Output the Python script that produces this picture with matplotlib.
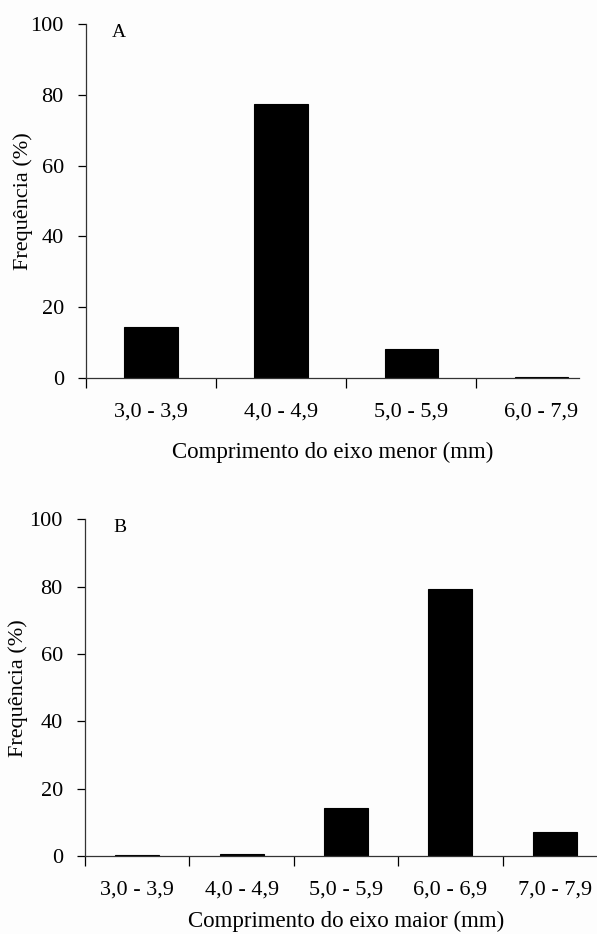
import matplotlib

matplotlib.use("Agg")
import matplotlib.pyplot as plt
import numpy as np

plt.rcParams["font.family"] = ["Liberation Serif", "DejaVu Serif"]

labels_menor = ["3,0 - 3,9", "4,0 - 4,9", "5,0 - 5,9", "6,0 - 7,9"]
freq_menor = [14.5, 77.5, 8.1, 0.3]

labels_maior = ["3,0 - 3,9", "4,0 - 4,9", "5,0 - 5,9", "6,0 - 6,9", "7,0 - 7,9"]
freq_maior = [0.2, 0.5, 14.2, 79.2, 7.0]

fs = 16


def panel(axis, labels, values, letter, xlabel, xright, width, xpad):
    x = np.arange(len(labels))
    axis.bar(x, values, width=width, color="black", edgecolor="black", linewidth=0.8)
    axis.set_xlim(-0.5, xright)
    axis.set_ylim(0, 100)
    axis.set_yticks([0, 20, 40, 60, 80, 100])
    axis.set_xticks(x, labels=labels)
    axis.set_xticks(np.arange(len(labels)) - 0.5, minor=True)
    axis.tick_params(axis="x", which="major", length=0, pad=18, labelsize=fs)
    axis.tick_params(axis="x", which="minor", length=7, width=0.9, direction="out")
    axis.tick_params(axis="y", length=6, width=0.9, pad=10, labelsize=fs)
    for side in ("top", "right"):
        axis.spines[side].set_visible(False)
    for side in ("left", "bottom"):
        axis.spines[side].set_linewidth(0.9)
        axis.spines[side].set_color("#333333")
    axis.set_ylabel("Frequência (%)", fontsize=fs, va="center")
    axis.yaxis.set_label_coords(-0.128, 0.5)
    axis.set_xlabel(xlabel, fontsize=16.5, labelpad=xpad)
    axis.text(0.067, 0.975, letter, transform=axis.transAxes, fontsize=14,
              ha="center", va="center")
    axis.set_facecolor("#fdfdfd")


fig = plt.figure(figsize=(5.97, 9.34), dpi=100, facecolor="#fdfdfd")

ax_a = fig.add_axes([86 / 597, 1 - 378 / 934, 493 / 597, 354 / 934])
panel(ax_a, labels_menor, freq_menor, "A", "Comprimento do eixo menor (mm)", 3.29, 0.41, 14)

ax_b = fig.add_axes([85 / 597, 1 - 856 / 934, 522 / 597, 336.7 / 934])
panel(ax_b, labels_maior, freq_maior, "B", "Comprimento do eixo maior (mm)", 4.5, 0.42, 8)

fig.savefig("out.png", dpi=100, facecolor=fig.get_facecolor())
